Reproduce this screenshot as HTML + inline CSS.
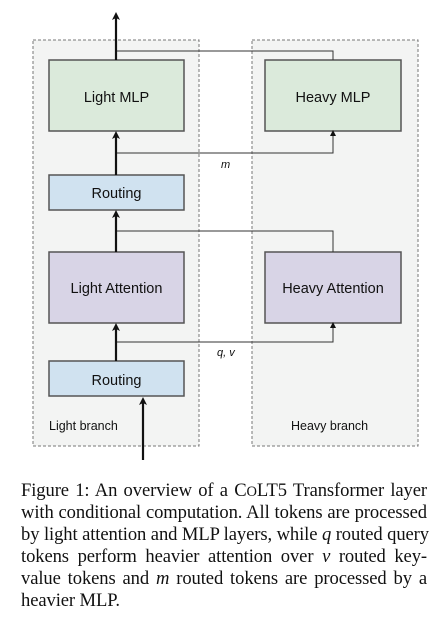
<!DOCTYPE html>
<html><head><style>
body{margin:0;width:443px;height:624px;background:#fff;position:relative;overflow:hidden}
.cap{position:absolute;left:21px;width:406px;font-family:"Liberation Serif",serif;font-size:18.6px;color:#111;white-space:nowrap;text-align:justify;text-align-last:justify;line-height:20px;letter-spacing:-0.1px}
.sc{font-size:14.5px}
</style></head><body>
<svg width="443" height="470" style="position:absolute;left:0;top:0" font-family="Liberation Sans, sans-serif">
<defs>
<marker id="a" markerWidth="8" markerHeight="8" refX="4" refY="4" orient="auto" markerUnits="userSpaceOnUse"><path d="M0,0 L8,4 L0,8 L2,4z" fill="#111"/></marker>
<marker id="s" markerWidth="6" markerHeight="6" refX="3" refY="3" orient="auto" markerUnits="userSpaceOnUse"><path d="M0,0 L6,3 L0,6z" fill="#111"/></marker>
</defs>
<rect x="33" y="40" width="166" height="406" fill="#f3f4f3" stroke="#777" stroke-dasharray="3,2"/>
<rect x="252" y="40" width="166" height="406" fill="#f3f4f3" stroke="#777" stroke-dasharray="3,2"/>
<g stroke="#555" stroke-width="1.5">
<rect x="49" y="60" width="135" height="71" fill="#dbeadb"/>
<rect x="265" y="60" width="136" height="71" fill="#dbeadb"/>
<rect x="49" y="175" width="135" height="35" fill="#d0e2f0"/>
<rect x="49" y="252" width="135" height="71" fill="#d8d4e6"/>
<rect x="265" y="252" width="136" height="71" fill="#d8d4e6"/>
<rect x="49" y="361" width="135" height="35" fill="#d0e2f0"/>
</g>
<g fill="none" stroke="#333" stroke-width="1">
<path d="M116,51 H333 V60"/>
<path d="M116,153 H333 V133" marker-end="url(#s)"/>
<path d="M116,231 H333 V252"/>
<path d="M116,342 H333 V325" marker-end="url(#s)"/>
</g>
<g stroke="#111" stroke-width="2.2" fill="none">
<path d="M116,60 V16" marker-end="url(#a)"/>
<path d="M116,175 V135" marker-end="url(#a)"/>
<path d="M116,252 V214" marker-end="url(#a)"/>
<path d="M116,361 V327" marker-end="url(#a)"/>
<path d="M143,460 V401" marker-end="url(#a)"/>
</g>
<g font-size="14.5" fill="#111" text-anchor="middle">
<text x="116.5" y="102">Light MLP</text>
<text x="333" y="102">Heavy MLP</text>
<text x="116.5" y="198">Routing</text>
<text x="116.5" y="293">Light Attention</text>
<text x="333" y="293">Heavy Attention</text>
<text x="116.5" y="385">Routing</text>
</g>
<g font-size="12.5" fill="#111">
<text x="49" y="430">Light branch</text>
<text x="291" y="430">Heavy branch</text>
<text x="221" y="168" font-style="italic" font-size="11">m</text>
<text x="217" y="356" font-style="italic" font-size="11">q, v</text>
</g>
</svg>
<div class="cap" style="top:481px">Figure 1: An overview of a C<span class="sc">O</span>LT5 Transformer layer</div>
<div class="cap" style="top:503px">with conditional computation. All tokens are processed</div>
<div class="cap" style="top:525px">by light attention and MLP layers, while <i>q</i> routed query</div>
<div class="cap" style="top:547px">tokens perform heavier attention over <i>v</i> routed key-</div>
<div class="cap" style="top:569px">value tokens and <i>m</i> routed tokens are processed by a</div>
<div class="cap" style="top:591px;text-align-last:left">heavier MLP.</div>
</body></html>
